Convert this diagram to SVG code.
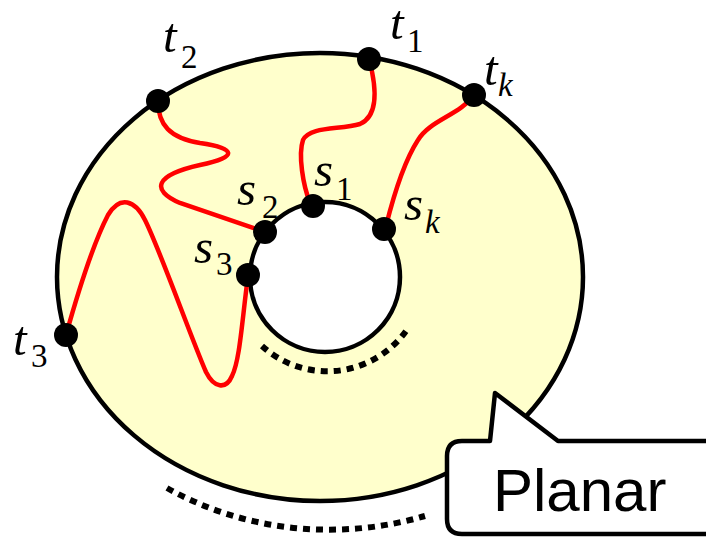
<svg xmlns="http://www.w3.org/2000/svg" width="706" height="542" viewBox="0 0 706 542">
<style>
.ol{stroke:#000;stroke-width:4.5}
.red{fill:none;stroke:#FF0000;stroke-width:4.5;stroke-linecap:round}
.dot{fill:none;stroke:#000;stroke-width:6;stroke-dasharray:7 6}
.node{fill:#000}
</style>
<g id="region">
<ellipse class="ol" cx="320" cy="277" rx="263" ry="224" fill="#FFFFCC"/>
<circle class="ol" cx="325" cy="277" r="75" fill="#FFFFFF"/>
</g>
<g id="dotted">
<path class="dot" d="M262,346 A97,97 0 0 0 406,331"/>
<path class="dot" d="M167,488 A300,262 0 0 0 425,516"/>
</g>
<g id="connectors">
<path class="red" d="M158,101 C158,125 170,138 200,143 C235,148 240,157 200,165 C155,175 150,190 180,203 L265,232"/>
<path class="red" d="M369,59 C376,85 380,115 360,124 C340,130 310,126 303,140 C298,155 303,185 310,203"/>
<path class="red" d="M474,95 C460,115 430,120 418,140 C405,160 395,190 386,226"/>
<path class="red" d="M248,276 C242,320 240,360 232,376 C226,390 214,388 206,372 C190,335 160,250 145,220 C135,200 120,195 108,215 C95,240 80,285 66,335"/>
</g>
<g font-family="Liberation Serif, Times New Roman, DejaVu Serif, serif" fill="#000">
<g id="t1"><circle class="node" cx="369" cy="59" r="12"/><text x="390" y="39" font-size="49" font-style="italic">t</text><text x="407" y="52" font-size="33">1</text></g>
<g id="t2"><circle class="node" cx="158" cy="101" r="12"/><text x="163" y="52" font-size="49" font-style="italic">t</text><text x="181" y="68" font-size="33">2</text></g>
<g id="tk"><circle class="node" cx="474" cy="95" r="12"/><text x="484" y="85" font-size="49" font-style="italic">t</text><text x="498" y="96" font-size="33" font-style="italic">k</text></g>
<g id="t3"><circle class="node" cx="66" cy="335" r="12"/><text x="13" y="355" font-size="49" font-style="italic">t</text><text x="31" y="367" font-size="33">3</text></g>
<g id="s1"><circle class="node" cx="313" cy="206" r="12"/><text x="314" y="186" font-size="49" font-style="italic">s</text><text x="336" y="200" font-size="33">1</text></g>
<g id="s2"><circle class="node" cx="265" cy="232" r="12"/><text x="237" y="205" font-size="49" font-style="italic">s</text><text x="262" y="218" font-size="33">2</text></g>
<g id="s3"><circle class="node" cx="248" cy="275" r="12"/><text x="194" y="263" font-size="49" font-style="italic">s</text><text x="216" y="275" font-size="33">3</text></g>
<g id="sk"><circle class="node" cx="384" cy="229" r="12"/><text x="404" y="220" font-size="49" font-style="italic">s</text><text x="425" y="233" font-size="33" font-style="italic">k</text></g>
</g>
<g id="callout">
<path d="M447,456 Q447,441 462,441 L490,441 L495,393 L558,441 L714,441 L714,534 L462,534 Q447,534 447,519 Z" fill="#FFFFFF" stroke="#000" stroke-width="4.5" stroke-linejoin="round"/>
<text x="493" y="511" font-family="Liberation Sans, Arial, sans-serif" font-size="60" fill="#000">Planar</text>
</g>
</svg>
